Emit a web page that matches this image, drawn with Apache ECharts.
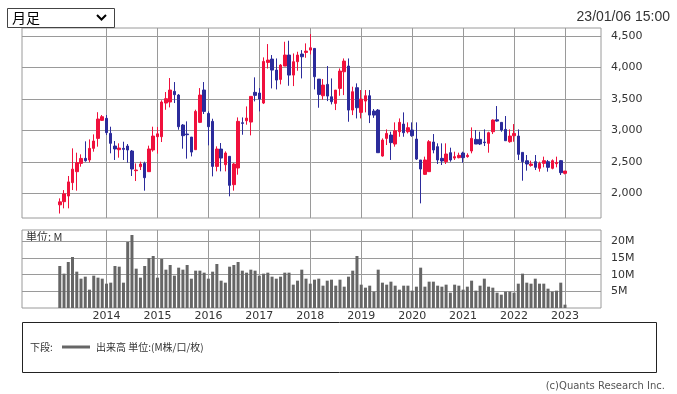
<!DOCTYPE html>
<html><head><meta charset="utf-8">
<script src="https://cdn.jsdelivr.net/npm/echarts@6/dist/echarts.min.js"></script>
<style>html,body{margin:0;padding:0;background:#fff}#c{width:677px;height:394px}</style>
</head><body><div id="c"></div>
<script>
const months = [
'2013-02','2013-03','2013-04','2013-05','2013-06','2013-07','2013-08','2013-09','2013-10','2013-11','2013-12',
'2014-01','2014-02','2014-03','2014-04','2014-05','2014-06','2014-07','2014-08','2014-09','2014-10','2014-11','2014-12',
'2015-01','2015-02','2015-03','2015-04','2015-05','2015-06','2015-07','2015-08','2015-09','2015-10','2015-11','2015-12',
'2016-01','2016-02','2016-03','2016-04','2016-05','2016-06','2016-07','2016-08','2016-09','2016-10','2016-11','2016-12',
'2017-01','2017-02','2017-03','2017-04','2017-05','2017-06','2017-07','2017-08','2017-09','2017-10','2017-11','2017-12',
'2018-01','2018-02','2018-03','2018-04','2018-05','2018-06','2018-07','2018-08','2018-09','2018-10','2018-11','2018-12',
'2019-01','2019-02','2019-03','2019-04','2019-05','2019-06','2019-07','2019-08','2019-09','2019-10','2019-11','2019-12',
'2020-01','2020-02','2020-03','2020-04','2020-05','2020-06','2020-07','2020-08','2020-09','2020-10','2020-11','2020-12',
'2021-01','2021-02','2021-03','2021-04','2021-05','2021-06','2021-07','2021-08','2021-09','2021-10','2021-11','2021-12',
'2022-01','2022-02','2022-03','2022-04','2022-05','2022-06','2022-07','2022-08','2022-09','2022-10','2022-11','2022-12',
'2023-01'];
const open = [1815,1865,1955,2168,2343,2475,2555,2529,2714,2873,3160,
3192,2953,2751,2693,2714,2751,2672,2359,2422,2475,2343,2688,
2900,2900,3436,3452,3622,3563,3086,2942,2894,2693,3128,3643,
3271,3144,2427,2703,2454,2587,2136,2401,3122,3154,3133,3606,
3595,3436,4083,4136,3961,3812,4025,4200,3881,4094,4216,4242,
4279,4306,3817,3552,3733,3536,3430,3669,3934,4025,3324,3680,
3287,3467,3552,3308,3324,2592,2873,2926,2783,2979,3101,2979,
3006,2862,2529,2300,2343,2815,2741,2555,2502,2645,2560,2566,
2640,2582,2672,2857,2857,2815,2794,2979,3170,3128,3016,2820,
2915,2910,2650,2517,2443,2502,2396,2475,2502,2396,2470,2518,
2316];
const close = [1862,1990,2180,2383,2486,2554,2518,2714,2831,3181,3218,
2964,2794,2704,2719,2698,2688,2385,2369,2465,2247,2704,2910,
2945,3452,3505,3643,3569,3059,2916,2932,2655,3303,3563,3303,
3059,2427,2703,2560,2640,2125,2465,3144,3112,3196,3542,3558,
3500,4099,4120,3961,3802,4041,4200,3881,4094,4200,4173,4263,
4316,3855,3573,3722,3547,3457,3642,3945,4104,3324,3616,3361,
3499,3552,3244,3244,2645,2846,2952,2805,2995,3128,2963,3043,
2916,2544,2385,2529,2820,2688,2529,2513,2624,2529,2582,2603,
2566,2603,2873,2783,2783,2805,2963,3165,3149,3006,2836,2910,
2952,2619,2502,2465,2465,2412,2475,2518,2412,2518,2490,2327,
2353];
const low = [1676,1759,1759,2050,2040,2422,2502,2491,2661,2741,3150,
2926,2635,2529,2566,2529,2486,2274,2194,2369,2040,2343,2661,
2630,2815,3329,3367,3436,3011,2709,2550,2586,2693,3117,3261,
2762,2268,2348,2348,2348,1950,2040,2295,2931,3091,2921,3462,
3303,3420,3985,3669,3653,3733,4025,3711,3706,3950,3828,4157,
4210,3653,3361,3489,3467,3414,3324,3552,3562,3138,3244,3191,
3191,3287,3117,3200,2645,2582,2767,2529,2741,2899,2899,2952,
2899,2529,1838,2290,2343,2635,2465,2449,2465,2502,2529,2555,
2486,2566,2635,2783,2767,2751,2645,2942,3139,2979,2836,2804,
2820,2529,2199,2359,2422,2369,2343,2412,2343,2380,2412,2290,
2300];
const high = [1918,2050,2274,2714,2645,2619,2826,2857,2937,3290,3245,
3245,3059,2831,2794,2820,2783,2688,2475,2502,2502,2757,3059,
3055,3480,3611,3834,3770,3579,3101,3144,2894,3330,3674,3770,
3303,3186,2746,2799,2666,2587,2481,3207,3207,3382,3542,3845,
3674,4163,4375,4200,4146,4056,4412,4428,4226,4253,4279,4386,
4534,4306,3817,3818,4025,3828,3642,3987,4146,4146,3696,3749,
3643,3643,3643,3340,3340,2873,3016,2979,3128,3191,3287,3128,
3128,3128,2529,2582,2846,2942,2794,2794,2794,2725,2661,2645,
2661,2635,3048,3006,2979,3016,2979,3175,3388,3128,3229,3016,
3101,3016,2650,2608,2518,2608,2502,2582,2529,2539,2582,2529,
2353];
const volume = [12.6,10.3,13.8,15.3,10.9,8.8,9.4,5.5,9.7,9.1,8.8,
7.3,7.6,12.6,12.4,7.6,19.8,21.9,11.8,9.1,12.6,15.0,15.6,
9.1,14.7,11.5,12.9,9.7,12.1,11.5,12.9,8.8,11.2,11.2,10.6,
8.8,10.9,13.2,8.2,7.6,12.4,12.9,13.8,11.2,10.6,11.5,11.2,
9.7,10.3,10.6,9.4,8.8,9.4,10.6,10.6,7.0,8.2,11.5,8.8,
7.3,8.5,8.8,6.7,8.2,8.5,6.7,8.5,6.4,9.4,11.2,15.6,
7.0,6.1,6.7,4.9,11.5,7.6,7.0,7.9,6.7,5.5,6.7,6.7,
5.2,6.4,12.1,6.4,7.9,7.9,6.7,6.4,7.0,4.6,7.0,6.7,
5.5,6.4,8.2,5.2,6.7,8.8,6.4,6.1,4.6,4.0,4.9,4.9,
4.6,7.3,10.3,7.6,7.3,8.8,7.3,7.3,5.8,4.9,5.2,7.6,
1.0];
const yearLabels = ['2014','2015','2016','2017','2018','2019','2020','2021','2022','2023'];
const priceTicks = [2000,2500,3000,3500,4000,4500];
const volumeTicks = [5,10,15,20];

const yearIdx = yearLabels.map(y => months.indexOf(y + '-01'));
const candleData = months.map((m, i) => [i, open[i], close[i], low[i], high[i]]);
const volData = months.map((m, i) => [i, volume[i]]);

const UP = '#f0103c', DOWN = '#2b2b9b', GRID = '#9a9a9a', TXT = '#333';
const NUMFONT = 'DejaVu Sans', JPFONT = 'Noto Sans CJK JP';
const XMIN = -8.9, XMAX = 127.48;

function xAxisCfg(gi, showLabel) {
  return {
    type: 'value', gridIndex: gi, min: XMIN, max: XMAX,
    axisLine: { show: false },
    axisTick: { show: false, customValues: yearIdx },
    axisLabel: {
      show: showLabel, customValues: yearIdx, margin: 3,
      fontFamily: NUMFONT, fontSize: 11, color: TXT,
      formatter: v => { const k = yearIdx.indexOf(v); return k >= 0 ? yearLabels[k] : ''; }
    },
    splitLine: { show: true, lineStyle: { color: GRID, width: 1 } }
  };
}

const chart = echarts.init(document.getElementById('c'), null, { renderer: 'canvas' });
chart.setOption({
  animation: false,
  backgroundColor: '#fff',
  grid: [
    { left: 22, top: 28, width: 579, height: 190, show: true, borderColor: GRID, borderWidth: 1, backgroundColor: 'transparent' },
    { left: 22, top: 230, width: 579, height: 78, show: true, borderColor: GRID, borderWidth: 1, backgroundColor: 'transparent' }
  ],
  xAxis: [xAxisCfg(0, false), xAxisCfg(1, true)],
  yAxis: [
    {
      type: 'value', gridIndex: 0, position: 'right', min: 1605, max: 4631, scale: true,
      axisLine: { show: false },
      axisTick: { show: true, length: 6, customValues: priceTicks, lineStyle: { color: GRID } },
      axisLabel: { customValues: priceTicks, margin: 10, fontFamily: NUMFONT, fontSize: 11, color: TXT,
        formatter: v => v.toLocaleString('en-US') },
      splitLine: { show: true, lineStyle: { color: GRID, width: 1 } }
    },
    {
      type: 'value', gridIndex: 1, position: 'right', min: 0, max: 23.4,
      axisLine: { show: false },
      axisTick: { show: true, length: 6, customValues: volumeTicks, lineStyle: { color: GRID } },
      axisLabel: { customValues: volumeTicks, margin: 10, fontFamily: NUMFONT, fontSize: 11, color: TXT,
        formatter: v => v + 'M' },
      splitLine: { show: true, lineStyle: { color: GRID, width: 1 } }
    }
  ],
  series: [
    {
      type: 'candlestick', xAxisIndex: 0, yAxisIndex: 0, data: candleData, barWidth: 3,
      itemStyle: { color: UP, color0: DOWN, borderColor: UP, borderColor0: DOWN, borderWidth: 1 }
    },
    {
      type: 'bar', xAxisIndex: 1, yAxisIndex: 1, data: volData, barWidth: 3,
      itemStyle: { color: '#666' }
    }
  ],
  graphic: [
    { type: 'rect', shape: { x: 7.5, y: 8.5, width: 107, height: 19 }, style: { fill: '#fff', stroke: '#444', lineWidth: 1 } },
    { type: 'text', x: 12, y: 18, style: { text: '月足', fontFamily: JPFONT, fontSize: 14, fill: '#000', verticalAlign: 'middle' } },
    { type: 'polyline', shape: { points: [[97, 15], [101.5, 19.5], [106, 15]] }, style: { stroke: '#000', lineWidth: 2, fill: null } },
    { type: 'text', x: 670, y: 17, style: { text: '23/01/06 15:00', fontFamily: 'Liberation Sans', fontSize: 14, fill: TXT, align: 'right', verticalAlign: 'middle' } },
    { type: 'text', x: 26, y: 237, style: { text: '単位: M', fontFamily: JPFONT, fontSize: 11, fill: TXT, verticalAlign: 'middle' } },
    { type: 'rect', shape: { x: 22.5, y: 322.5, width: 634, height: 50 }, style: { fill: '#fff', stroke: '#222', lineWidth: 1 } },
    { type: 'text', x: 30, y: 347, style: { text: '下段:', fontFamily: JPFONT, fontSize: 10, fill: TXT, verticalAlign: 'middle' } },
    { type: 'line', shape: { x1: 62, y1: 347, x2: 90, y2: 347 }, style: { stroke: '#666', lineWidth: 3 } },
    { type: 'text', x: 96, y: 347, style: { text: '出来高 単位:(M株/口/枚)', fontFamily: JPFONT, fontSize: 10, fill: TXT, verticalAlign: 'middle' } },
    { type: 'text', x: 665, y: 386, style: { text: '(c)Quants Research Inc.', fontFamily: NUMFONT, fontSize: 10, fill: '#555', align: 'right', verticalAlign: 'middle' } }
  ]
});
</script></body></html>
